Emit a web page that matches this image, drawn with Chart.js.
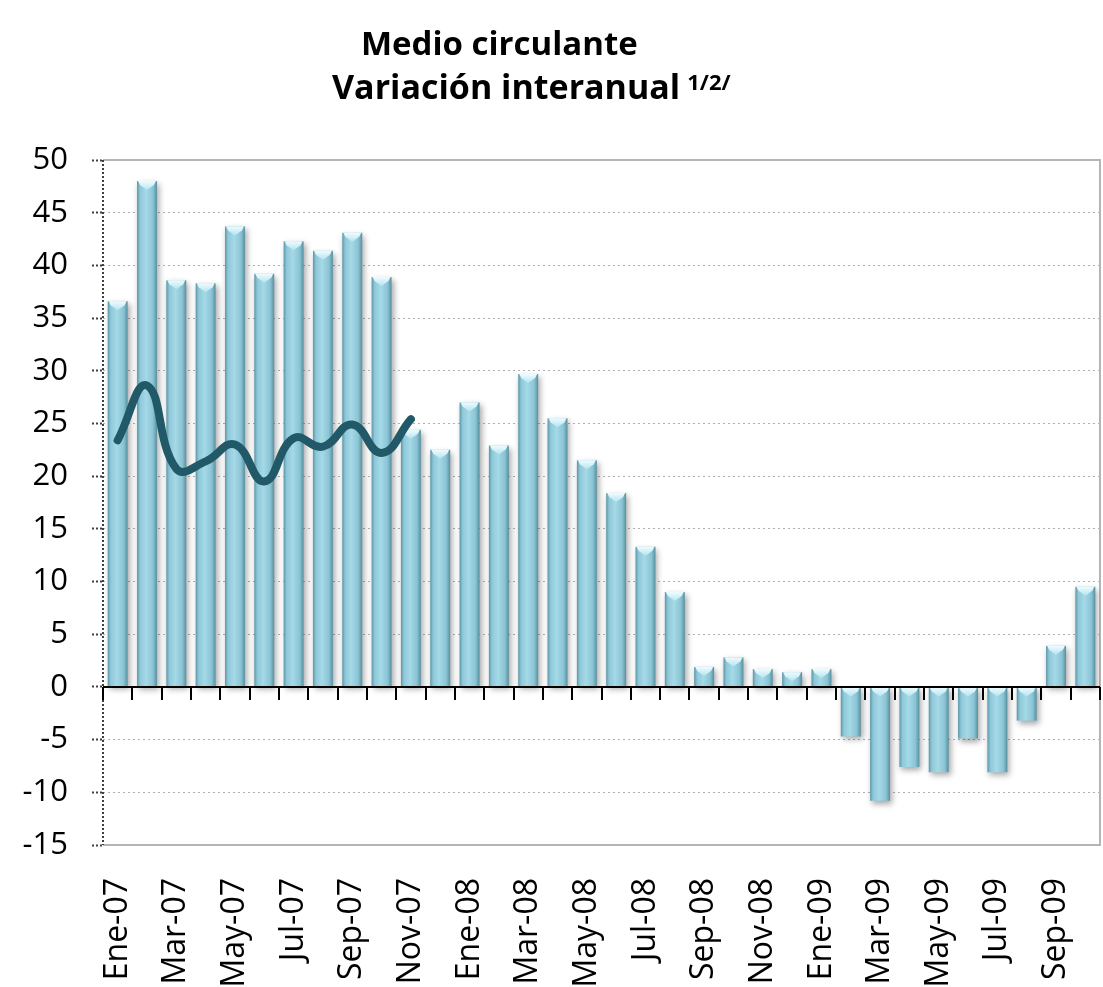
<!DOCTYPE html>
<html>
<head>
<meta charset="utf-8">
<script src="https://cdn.jsdelivr.net/npm/chart.js@4.4.0/dist/chart.umd.min.js"></script>
<style>
  html, body { margin: 0; padding: 0; background: #fff; overflow: hidden; }
  #wrap { position: relative; width: 1103px; height: 987px; overflow: hidden; }
  .title { position: absolute; font-family: "Open Sans", sans-serif; font-weight: 700; color: #000;
           white-space: nowrap; line-height: 1; }
  #t1 { left: 361px; top: 26px; font-size: 33px; }
  #t2 { left: 332px; top: 69px; font-size: 34px; }
  #t2 sup { font-size: 22px; position: relative; top: 1px; margin-left: 7px; vertical-align: top; }
  canvas { position: absolute; left: 0; top: 0; }
</style>
</head>
<body>
<div id="wrap">
  <canvas id="medioChart" width="1103" height="1000"></canvas>
  <div class="title" id="t1">Medio circulante</div>
  <div class="title" id="t2">Variación interanual<sup>1/2/</sup></div>
</div>
<script>
const months = [
  'Ene-07','Feb-07','Mar-07','Abr-07','May-07','Jun-07','Jul-07','Ago-07','Sep-07','Oct-07','Nov-07','Dic-07',
  'Ene-08','Feb-08','Mar-08','Abr-08','May-08','Jun-08','Jul-08','Ago-08','Sep-08','Oct-08','Nov-08','Dic-08',
  'Ene-09','Feb-09','Mar-09','Abr-09','May-09','Jun-09','Jul-09','Ago-09','Sep-09','Oct-09'
];

// variación interanual (%), barras
const variacion = [
  36.6, 48.0, 38.6, 38.3, 43.7, 39.2, 42.3, 41.4, 43.1, 38.9, 24.4, 22.5,
  27.0, 22.9, 29.7, 25.5, 21.5, 18.4, 13.3, 9.0, 1.9, 2.8, 1.7, 1.4,
  1.7, -4.7, -10.8, -7.6, -8.1, -4.9, -8.1, -3.2, 3.9, 9.5
];

// línea 2007 (Ene-07 a Nov-07)
const linea2007 = [23.4, 28.6, 20.7, 21.4, 23.0, 19.5, 23.6, 22.8, 24.9, 22.2, 25.4];

const yTicks = { min: -15, max: 50, step: 5 };

const barPct = 0.68;
const lineData = months.map((m, i) => (i < linea2007.length ? linea2007[i] : null));

function barGradient(context) {
  const chart = context.chart;
  const xs = chart.scales.x;
  if (!xs || !chart.chartArea) return '#93cddd';
  const x = xs.getPixelForValue(context.dataIndex);
  const w = (xs.right - xs.left) / months.length * barPct;
  const g = chart.ctx.createLinearGradient(x - w / 2, 0, x + w / 2, 0);
  g.addColorStop(0, '#5c97a7');
  g.addColorStop(0.15, '#8ec8d8');
  g.addColorStop(0.45, '#a5d9e7');
  g.addColorStop(0.8, '#8ac4d4');
  g.addColorStop(1, '#578f9e');
  return g;
}

const decor = {
  id: 'decor',
  beforeDatasetsDraw(chart) {
    const { ctx, chartArea: a } = chart;
    ctx.save();
    ctx.strokeStyle = '#b5b5b5';
    ctx.lineWidth = 2;
    ctx.beginPath();
    ctx.moveTo(a.left, a.top);
    ctx.lineTo(a.right, a.top);
    ctx.lineTo(a.right, a.bottom);
    ctx.lineTo(a.left, a.bottom);
    ctx.stroke();
    // left axis, dotted
    ctx.strokeStyle = '#404040';
    ctx.lineWidth = 2;
    ctx.setLineDash([2, 2]);
    ctx.beginPath();
    ctx.moveTo(a.left, a.top);
    ctx.lineTo(a.left, a.bottom);
    ctx.stroke();
    ctx.restore();
  },
  beforeDatasetDraw(chart, args) {
    if (args.index !== 0) return;
    const ctx = chart.ctx;
    ctx.save();
    ctx.shadowColor = 'rgba(0,0,0,0.35)';
    ctx.shadowBlur = 6;
    ctx.shadowOffsetX = 2;
    ctx.shadowOffsetY = 3;
  },
  afterDatasetDraw(chart, args) {
    if (args.index !== 0) return;
    const ctx = chart.ctx;
    ctx.restore();
    const meta = chart.getDatasetMeta(0);
    ctx.save();
    meta.data.forEach(bar => {
      const top = Math.min(bar.y, bar.base);
      const half = bar.width / 2;
      const g = ctx.createLinearGradient(0, top, 0, top + 9);
      g.addColorStop(0, '#effcff');
      g.addColorStop(1, '#b4e4ef');
      ctx.fillStyle = g;
      ctx.beginPath();
      ctx.moveTo(bar.x - half + 1, top);
      ctx.lineTo(bar.x + half - 1, top);
      ctx.lineTo(bar.x + half - 3, top + 4);
      ctx.lineTo(bar.x, top + 9);
      ctx.lineTo(bar.x - half + 3, top + 4);
      ctx.closePath();
      ctx.fill();
    });
    // zero line with tick marks between categories
    const xs = chart.scales.x;
    const y0 = chart.scales.y.getPixelForValue(0);
    ctx.strokeStyle = '#000';
    ctx.lineWidth = 2;
    ctx.beginPath();
    ctx.moveTo(xs.left, y0);
    ctx.lineTo(xs.right, y0);
    const step = (xs.right - xs.left) / months.length;
    for (let i = 0; i <= months.length; i++) {
      const x = Math.round(xs.left + i * step);
      ctx.moveTo(x, y0);
      ctx.lineTo(x, y0 + 13);
    }
    ctx.stroke();
    ctx.restore();
  }
};

const ctx = document.getElementById('medioChart').getContext('2d');
const chart = new Chart(ctx, {
  data: {
    labels: months,
    datasets: [
      {
        type: 'bar',
        label: 'Variación interanual',
        data: variacion,
        backgroundColor: barGradient,
        borderWidth: 0,
        barPercentage: barPct,
        categoryPercentage: 1,
        order: 1
      },
      {
        type: 'line',
        label: '2007',
        data: lineData,
        borderColor: '#215968',
        borderWidth: 8,
        borderCapStyle: 'round',
        borderJoinStyle: 'round',
        pointRadius: 0,
        tension: 0.45,
        fill: false,
        spanGaps: false,
        order: 0
      }
    ]
  },
  options: {
    responsive: false,
    animation: false,
    layout: { padding: { top: 160, right: 3, left: 0, bottom: 0 } },
    plugins: {
      legend: { display: false },
      tooltip: { enabled: false }
    },
    scales: {
      x: {
        grid: { display: false, drawTicks: false },
        border: { display: false },
        ticks: {
          color: '#000',
          font: { family: 'Open Sans', size: 32 },
          minRotation: 90,
          maxRotation: 90,
          autoSkip: false,
          padding: 33,
          callback: (v, i) => (i % 2 === 0 ? months[i] : '')
        },
        afterFit(scale) {
          scale.height = 155;
          scale.paddingLeft = 0;
          scale.paddingRight = 0;
        }
      },
      y: {
        min: yTicks.min,
        max: yTicks.max,
        ticks: {
          stepSize: yTicks.step,
          color: '#000',
          font: { family: 'Open Sans', size: 31 },
          padding: 24
        },
        grid: {
          color: '#b0b0b0',
          lineWidth: 1,
          tickLength: 11,
          tickColor: '#404040',
          tickWidth: 2,
          tickBorderDash: [2, 2]
        },
        border: { display: false, dash: [2, 3] },
        afterFit(scale) { scale.width = 103; }
      }
    }
  },
  plugins: [decor]
});
</script>
</body>
</html>
